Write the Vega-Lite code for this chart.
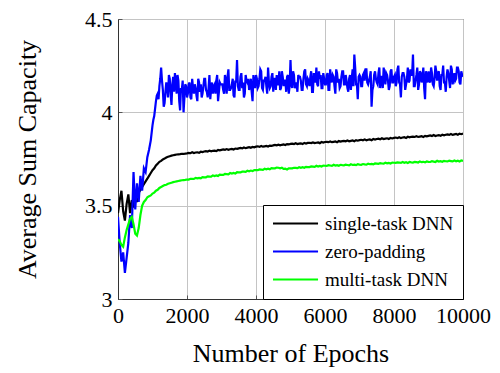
{
"$schema": "https://vega.github.io/schema/vega-lite/v6.json",
"width": 345, "height": 280,
"autosize": {"type": "none"},
"padding": {"left": 118, "top": 19, "right": 37, "bottom": 74},
"background": "white",
"config": {
  "font": "Liberation Serif",
  "view": {"stroke": "#333333", "strokeWidth": 1},
  "axis": {"labelFont": "Liberation Serif", "titleFont": "Liberation Serif", "labelFontSize": 22, "titleFontSize": 26, "labelColor": "#000", "titleColor": "#000", "titleFontWeight": "normal", "gridColor": "#c4c4c4", "gridWidth": 1, "domainColor": "#333333", "tickColor": "#555555", "tickSize": -4, "labelOverlap": false, "labelBound": false, "labelFlush": false},
  "legend": {"labelFont": "Liberation Serif"}
},
"data": {"values": [
{"e":0,"a":3.46,"b":3.44,"c":3.32},{"e":50,"a":3.53,"b":3.30,"c":3.31},{"e":100,"a":3.58,"b":3.20,"c":3.29},{"e":150,"a":3.47,"b":3.25,"c":3.28},{"e":200,"a":3.42,"b":3.14,"c":3.33},
{"e":250,"a":3.51,"b":3.22,"c":3.37},{"e":300,"a":3.56,"b":3.30,"c":3.40},{"e":350,"a":3.46,"b":3.45,"c":3.43},{"e":400,"a":3.53,"b":3.38,"c":3.44},{"e":450,"a":3.49,"b":3.68,"c":3.40},
{"e":500,"a":3.56,"b":3.48,"c":3.35},{"e":550,"a":3.52,"b":3.62,"c":3.34},{"e":600,"a":3.57,"b":3.52,"c":3.38},{"e":650,"a":3.585,"b":3.66,"c":3.45},{"e":700,"a":3.60,"b":3.58,"c":3.50},
{"e":750,"a":3.615,"b":3.70,"c":3.52},{"e":800,"a":3.63,"b":3.68,"c":3.53},{"e":850,"a":3.645,"b":3.76,"c":3.545},{"e":900,"a":3.66,"b":3.80,"c":3.55},{"e":950,"a":3.675,"b":3.85,"c":3.555},
{"e":1000,"a":3.69,"b":3.93,"c":3.565},{"e":1050,"a":3.70,"b":3.98,"c":3.57},{"e":1100,"a":3.715,"b":4.06,"c":3.58},{"e":1150,"a":3.725,"b":4.10,"c":3.585},{"e":1200,"a":3.735,"b":4.14,"c":3.595},
{"e":1250,"a":3.74,"b":4.24,"c":3.60},{"e":1300,"a":3.748,"b":4.12,"c":3.605},{"e":1350,"a":3.752,"b":4.05,"c":3.61},{"e":1400,"a":3.758,"b":4.16,"c":3.612},{"e":1450,"a":3.762,"b":4.08,"c":3.617},
{"e":1500,"a":3.765,"b":4.18,"c":3.62},{"e":1550,"a":3.768,"b":4.04,"c":3.623},{"e":1600,"a":3.77,"b":4.19,"c":3.626},{"e":1650,"a":3.772,"b":4.21,"c":3.628},{"e":1700,"a":3.774,"b":4.10,"c":3.63},
{"e":1750,"a":3.775,"b":4.17,"c":3.632},{"e":1800,"a":3.776,"b":4.01,"c":3.634},{"e":1850,"a":3.778,"b":4.12,"c":3.636},{"e":1900,"a":3.777,"b":4.00,"c":3.637},{"e":1950,"a":3.779,"b":4.15,"c":3.638},
{"e":2000,"a":3.78,"b":4.08,"c":3.64},
{"e":2050,"a":3.783,"b":4.15,"c":3.640},{"e":2100,"a":3.781,"b":4.08,"c":3.644},{"e":2150,"a":3.786,"b":4.18,"c":3.644},{"e":2200,"a":3.782,"b":4.10,"c":3.643},{"e":2250,"a":3.785,"b":4.13,"c":3.649},
{"e":2300,"a":3.786,"b":4.06,"c":3.646},{"e":2350,"a":3.783,"b":4.16,"c":3.649},{"e":2400,"a":3.789,"b":4.15,"c":3.647},{"e":2450,"a":3.787,"b":4.10,"c":3.653},{"e":2500,"a":3.790,"b":4.18,"c":3.652},
{"e":2550,"a":3.792,"b":4.12,"c":3.652},{"e":2600,"a":3.790,"b":4.08,"c":3.657},{"e":2650,"a":3.795,"b":4.20,"c":3.656},{"e":2700,"a":3.791,"b":4.13,"c":3.655},{"e":2750,"a":3.794,"b":4.10,"c":3.662},
{"e":2800,"a":3.795,"b":4.15,"c":3.659},{"e":2850,"a":3.792,"b":4.17,"c":3.662},{"e":2900,"a":3.798,"b":4.06,"c":3.659},{"e":2950,"a":3.796,"b":4.16,"c":3.666},{"e":3000,"a":3.799,"b":4.15,"c":3.665},
{"e":3050,"a":3.801,"b":4.12,"c":3.665},{"e":3100,"a":3.799,"b":4.20,"c":3.670},{"e":3150,"a":3.803,"b":4.10,"c":3.669},{"e":3200,"a":3.799,"b":4.23,"c":3.668},{"e":3250,"a":3.802,"b":4.12,"c":3.675},
{"e":3300,"a":3.804,"b":4.15,"c":3.672},{"e":3350,"a":3.801,"b":4.09,"c":3.675},{"e":3400,"a":3.806,"b":4.17,"c":3.672},{"e":3450,"a":3.804,"b":4.28,"c":3.679},{"e":3500,"a":3.807,"b":4.12,"c":3.678},
{"e":3550,"a":3.809,"b":4.19,"c":3.678},{"e":3600,"a":3.807,"b":4.13,"c":3.682},{"e":3650,"a":3.812,"b":4.08,"c":3.682},{"e":3700,"a":3.808,"b":4.20,"c":3.681},{"e":3750,"a":3.811,"b":4.16,"c":3.687},
{"e":3800,"a":3.813,"b":4.12,"c":3.684},{"e":3850,"a":3.810,"b":4.18,"c":3.688},{"e":3900,"a":3.815,"b":4.06,"c":3.685},{"e":3950,"a":3.813,"b":4.15,"c":3.691},{"e":4000,"a":3.816,"b":4.20,"c":3.690},
{"e":4050,"a":3.818,"b":4.13,"c":3.690},{"e":4100,"a":3.815,"b":4.18,"c":3.694},{"e":4150,"a":3.820,"b":4.22,"c":3.693},{"e":4200,"a":3.816,"b":4.12,"c":3.692},{"e":4250,"a":3.818,"b":4.17,"c":3.698},
{"e":4300,"a":3.820,"b":4.14,"c":3.695},{"e":4350,"a":3.817,"b":4.24,"c":3.698},{"e":4400,"a":3.822,"b":4.13,"c":3.695},{"e":4450,"a":3.820,"b":4.19,"c":3.701},{"e":4500,"a":3.823,"b":4.11,"c":3.700},
{"e":4550,"a":3.825,"b":4.18,"c":3.700},{"e":4600,"a":3.823,"b":4.20,"c":3.704},{"e":4650,"a":3.827,"b":4.15,"c":3.703},{"e":4700,"a":3.823,"b":4.12,"c":3.700},{"e":4750,"a":3.826,"b":4.22,"c":3.703},
{"e":4800,"a":3.828,"b":4.14,"c":3.697},{"e":4850,"a":3.825,"b":4.17,"c":3.698},{"e":4900,"a":3.830,"b":4.19,"c":3.694},{"e":4950,"a":3.828,"b":4.10,"c":3.700},{"e":5000,"a":3.831,"b":4.28,"c":3.700},
{"e":5050,"a":3.832,"b":4.13,"c":3.700},{"e":5100,"a":3.830,"b":4.20,"c":3.703},{"e":5150,"a":3.834,"b":4.14,"c":3.702},{"e":5200,"a":3.830,"b":4.11,"c":3.701},{"e":5250,"a":3.832,"b":4.19,"c":3.706},
{"e":5300,"a":3.834,"b":4.17,"c":3.703},{"e":5350,"a":3.830,"b":4.12,"c":3.706},{"e":5400,"a":3.836,"b":4.22,"c":3.703},{"e":5450,"a":3.833,"b":4.15,"c":3.708},{"e":5500,"a":3.836,"b":4.18,"c":3.707},
{"e":5550,"a":3.837,"b":4.14,"c":3.707},{"e":5600,"a":3.835,"b":4.22,"c":3.710},{"e":5650,"a":3.839,"b":4.11,"c":3.709},{"e":5700,"a":3.835,"b":4.19,"c":3.708},{"e":5750,"a":3.837,"b":4.24,"c":3.714},
{"e":5800,"a":3.839,"b":4.14,"c":3.710},{"e":5850,"a":3.835,"b":4.18,"c":3.713},{"e":5900,"a":3.841,"b":4.13,"c":3.710},{"e":5950,"a":3.838,"b":4.21,"c":3.715},{"e":6000,"a":3.841,"b":4.15,"c":3.714},
{"e":6050,"a":3.842,"b":4.20,"c":3.713},{"e":6100,"a":3.840,"b":4.12,"c":3.717},{"e":6150,"a":3.844,"b":4.23,"c":3.715},{"e":6200,"a":3.840,"b":4.16,"c":3.713},{"e":6250,"a":3.842,"b":4.19,"c":3.719},
{"e":6300,"a":3.844,"b":4.10,"c":3.715},{"e":6350,"a":3.840,"b":4.21,"c":3.717},{"e":6400,"a":3.846,"b":4.18,"c":3.714},{"e":6450,"a":3.843,"b":4.14,"c":3.719},{"e":6500,"a":3.846,"b":4.22,"c":3.717},
{"e":6550,"a":3.847,"b":4.15,"c":3.716},{"e":6600,"a":3.845,"b":4.20,"c":3.720},{"e":6650,"a":3.849,"b":4.13,"c":3.718},{"e":6700,"a":3.845,"b":4.18,"c":3.716},{"e":6750,"a":3.847,"b":4.12,"c":3.722},
{"e":6800,"a":3.849,"b":4.23,"c":3.718},{"e":6850,"a":3.845,"b":4.31,"c":3.720},{"e":6900,"a":3.851,"b":4.15,"c":3.717},{"e":6950,"a":3.848,"b":4.07,"c":3.722},{"e":7000,"a":3.851,"b":4.20,"c":3.720},
{"e":7050,"a":3.853,"b":4.14,"c":3.719},{"e":7100,"a":3.850,"b":4.20,"c":3.723},{"e":7150,"a":3.855,"b":4.17,"c":3.721},{"e":7200,"a":3.850,"b":4.23,"c":3.720},{"e":7250,"a":3.853,"b":4.15,"c":3.725},
{"e":7300,"a":3.855,"b":4.19,"c":3.722},{"e":7350,"a":3.851,"b":4.03,"c":3.724},{"e":7400,"a":3.857,"b":4.14,"c":3.721},{"e":7450,"a":3.854,"b":4.22,"c":3.726},{"e":7500,"a":3.857,"b":4.16,"c":3.725},
{"e":7550,"a":3.859,"b":4.21,"c":3.724},{"e":7600,"a":3.856,"b":4.13,"c":3.728},{"e":7650,"a":3.861,"b":4.19,"c":3.726},{"e":7700,"a":3.857,"b":4.24,"c":3.725},{"e":7750,"a":3.859,"b":4.15,"c":3.730},
{"e":7800,"a":3.861,"b":4.20,"c":3.727},{"e":7850,"a":3.857,"b":4.12,"c":3.729},{"e":7900,"a":3.863,"b":4.22,"c":3.726},{"e":7950,"a":3.860,"b":4.16,"c":3.731},{"e":8000,"a":3.863,"b":4.19,"c":3.730},
{"e":8050,"a":3.865,"b":4.14,"c":3.729},{"e":8100,"a":3.862,"b":4.23,"c":3.732},{"e":8150,"a":3.867,"b":4.16,"c":3.731},{"e":8200,"a":3.862,"b":4.08,"c":3.729},{"e":8250,"a":3.865,"b":4.21,"c":3.734},
{"e":8300,"a":3.867,"b":4.19,"c":3.730},{"e":8350,"a":3.863,"b":4.15,"c":3.733},{"e":8400,"a":3.869,"b":4.24,"c":3.729},{"e":8450,"a":3.866,"b":4.17,"c":3.734},{"e":8500,"a":3.869,"b":4.20,"c":3.732},
{"e":8550,"a":3.870,"b":4.31,"c":3.731},{"e":8600,"a":3.868,"b":4.14,"c":3.735},{"e":8650,"a":3.872,"b":4.20,"c":3.733},{"e":8700,"a":3.868,"b":4.12,"c":3.731},{"e":8750,"a":3.870,"b":4.22,"c":3.737},
{"e":8800,"a":3.872,"b":4.16,"c":3.733},{"e":8850,"a":3.868,"b":4.24,"c":3.735},{"e":8900,"a":3.874,"b":4.07,"c":3.732},{"e":8950,"a":3.871,"b":4.19,"c":3.737},{"e":9000,"a":3.874,"b":4.22,"c":3.735},
{"e":9050,"a":3.876,"b":4.16,"c":3.734},{"e":9100,"a":3.873,"b":4.21,"c":3.738},{"e":9150,"a":3.878,"b":4.14,"c":3.736},{"e":9200,"a":3.873,"b":4.25,"c":3.734},{"e":9250,"a":3.876,"b":4.17,"c":3.740},
{"e":9300,"a":3.878,"b":4.22,"c":3.736},{"e":9350,"a":3.874,"b":4.12,"c":3.738},{"e":9400,"a":3.880,"b":4.20,"c":3.735},{"e":9450,"a":3.877,"b":4.16,"c":3.740},{"e":9500,"a":3.880,"b":4.11,"c":3.738},
{"e":9550,"a":3.882,"b":4.23,"c":3.737},{"e":9600,"a":3.879,"b":4.17,"c":3.741},{"e":9650,"a":3.884,"b":4.25,"c":3.739},{"e":9700,"a":3.879,"b":4.15,"c":3.737},{"e":9750,"a":3.882,"b":4.21,"c":3.742},
{"e":9800,"a":3.884,"b":4.18,"c":3.738},{"e":9850,"a":3.880,"b":4.24,"c":3.741},{"e":9900,"a":3.886,"b":4.16,"c":3.737},{"e":9950,"a":3.883,"b":4.22,"c":3.742},{"e":10000,"a":3.886,"b":4.19,"c":3.740},
{"e":1025,"b":3.96},{"e":1075,"b":4.02},{"e":1125,"b":4.09},{"e":1175,"b":4.07},{"e":1225,"b":4.18},{"e":1275,"b":4.17},{"e":1325,"b":4.03},{"e":1375,"b":4.11},{"e":1425,"b":4.13},{"e":1475,"b":4.20},
{"e":1525,"b":4.10},{"e":1575,"b":4.15},{"e":1625,"b":4.11},{"e":1675,"b":4.16},{"e":1725,"b":4.20},{"e":1775,"b":4.06},{"e":1825,"b":4.13},{"e":1875,"b":4.17},{"e":1925,"b":4.08},{"e":1975,"b":4.14},
{"e":2025,"b":4.10},{"e":2075,"b":4.16},{"e":2125,"b":4.07},{"e":2175,"b":4.13},{"e":2225,"b":4.15},{"e":2275,"b":4.09},{"e":2325,"b":4.18},{"e":2375,"b":4.11},{"e":2425,"b":4.08},{"e":2475,"b":4.14},
{"e":2525,"b":4.18},{"e":2575,"b":4.11},{"e":2625,"b":4.13},{"e":2675,"b":4.07},{"e":2725,"b":4.16},{"e":2775,"b":4.14},{"e":2825,"b":4.10},{"e":2875,"b":4.20},{"e":2925,"b":4.11},{"e":2975,"b":4.15},
{"e":3025,"b":4.15},{"e":3075,"b":4.10},{"e":3125,"b":4.17},{"e":3175,"b":4.19},{"e":3225,"b":4.12},{"e":3275,"b":4.13},{"e":3325,"b":4.18},{"e":3375,"b":4.08},{"e":3425,"b":4.16},{"e":3475,"b":4.14},
{"e":3525,"b":4.12},{"e":3575,"b":4.21},{"e":3625,"b":4.16},{"e":3675,"b":4.10},{"e":3725,"b":4.17},{"e":3775,"b":4.18},{"e":3825,"b":4.14},{"e":3875,"b":4.11},{"e":3925,"b":4.20},{"e":3975,"b":4.13},
{"e":4025,"b":4.18},{"e":4075,"b":4.14},{"e":4125,"b":4.23},{"e":4175,"b":4.13},{"e":4225,"b":4.17},{"e":4275,"b":4.19},{"e":4325,"b":4.10},{"e":4375,"b":4.16},{"e":4425,"b":4.14},{"e":4475,"b":4.21},
{"e":4525,"b":4.18},{"e":4575,"b":4.12},{"e":4625,"b":4.15},{"e":4675,"b":4.22},{"e":4725,"b":4.13},{"e":4775,"b":4.19},{"e":4825,"b":4.17},{"e":4875,"b":4.11},{"e":4925,"b":4.20},{"e":4975,"b":4.14},
{"e":5025,"b":4.15},{"e":5075,"b":4.22},{"e":5125,"b":4.13},{"e":5175,"b":4.16},{"e":5225,"b":4.20},{"e":5275,"b":4.19},{"e":5325,"b":4.12},{"e":5375,"b":4.18},{"e":5425,"b":4.23},{"e":5475,"b":4.14},
{"e":5525,"b":4.17},{"e":5575,"b":4.19},{"e":5625,"b":4.11},{"e":5675,"b":4.21},{"e":5725,"b":4.16},{"e":5775,"b":4.15},{"e":5825,"b":4.22},{"e":5875,"b":4.20},{"e":5925,"b":4.13},{"e":5975,"b":4.18},
{"e":6025,"b":4.15},{"e":6075,"b":4.21},{"e":6125,"b":4.12},{"e":6175,"b":4.18},{"e":6225,"b":4.20},{"e":6275,"b":4.14},{"e":6325,"b":4.23},{"e":6375,"b":4.16},{"e":6425,"b":4.13},{"e":6475,"b":4.19},
{"e":6525,"b":4.22},{"e":6575,"b":4.15},{"e":6625,"b":4.17},{"e":6675,"b":4.11},{"e":6725,"b":4.20},{"e":6775,"b":4.18},{"e":6825,"b":4.14},{"e":6875,"b":4.24},{"e":6925,"b":4.15},{"e":6975,"b":4.19},
{"e":7025,"b":4.19},{"e":7075,"b":4.14},{"e":7125,"b":4.21},{"e":7175,"b":4.23},{"e":7225,"b":4.16},{"e":7275,"b":4.17},{"e":7325,"b":4.22},{"e":7375,"b":4.12},{"e":7425,"b":4.20},{"e":7475,"b":4.18},
{"e":7525,"b":4.15},{"e":7575,"b":4.24},{"e":7625,"b":4.19},{"e":7675,"b":4.13},{"e":7725,"b":4.20},{"e":7775,"b":4.21},{"e":7825,"b":4.17},{"e":7875,"b":4.14},{"e":7925,"b":4.23},{"e":7975,"b":4.16},
{"e":8025,"b":4.20},{"e":8075,"b":4.16},{"e":8125,"b":4.25},{"e":8175,"b":4.15},{"e":8225,"b":4.19},{"e":8275,"b":4.21},{"e":8325,"b":4.12},{"e":8375,"b":4.18},{"e":8425,"b":4.16},{"e":8475,"b":4.23},
{"e":8525,"b":4.20},{"e":8575,"b":4.14},{"e":8625,"b":4.17},{"e":8675,"b":4.24},{"e":8725,"b":4.15},{"e":8775,"b":4.21},{"e":8825,"b":4.19},{"e":8875,"b":4.13},{"e":8925,"b":4.22},{"e":8975,"b":4.16},
{"e":9025,"b":4.17},{"e":9075,"b":4.24},{"e":9125,"b":4.15},{"e":9175,"b":4.18},{"e":9225,"b":4.22},{"e":9275,"b":4.21},{"e":9325,"b":4.14},{"e":9375,"b":4.20},{"e":9425,"b":4.25},{"e":9475,"b":4.16},
{"e":9525,"b":4.19},{"e":9575,"b":4.21},{"e":9625,"b":4.13},{"e":9675,"b":4.23},{"e":9725,"b":4.18},{"e":9775,"b":4.17},{"e":9825,"b":4.24},{"e":9875,"b":4.22},{"e":9925,"b":4.15},{"e":9975,"b":4.20}
]},
"transform": [{"fold": ["a", "b", "c"], "as": ["s", "v"]}, {"filter": "isValid(datum.v)"}],
"mark": {"type": "line", "strokeWidth": 2.2, "clip": true},
"encoding": {
  "x": {"field": "e", "type": "quantitative", "scale": {"domain": [0, 10000], "nice": false},
        "axis": {"title": "Number of Epochs", "titleFont": "Liberation Serif", "labelFont": "Liberation Serif", "values": [0, 2000, 4000, 6000, 8000, 10000], "format": "d", "labelPadding": 10, "titlePadding": 14}},
  "y": {"field": "v", "type": "quantitative", "scale": {"domain": [3, 4.5], "nice": false, "zero": false},
        "axis": {"title": "Average Sum Capacity", "titleFont": "Liberation Serif", "labelFont": "Liberation Serif", "values": [3, 3.5, 4, 4.5], "format": "~g", "labelPadding": 10, "titlePadding": 44}},
  "color": {"field": "s", "type": "nominal", "scale": {"domain": ["a", "b", "c"], "range": ["#000000", "#0000ff", "#00ff00"]},
        "legend": {"title": null, "orient": "bottom-right", "offset": 0, "strokeColor": "#000000", "fillColor": "#ffffff", "padding": 9, "labelFont": "Liberation Serif", "labelFontSize": 19, "labelColor": "#000", "symbolType": "M-1,0H4.3", "symbolSize": 289, "symbolStrokeWidth": 2, "labelOffset": 34, "rowPadding": 8,
          "labelExpr": "datum.label == 'a' ? 'single-task DNN' : datum.label == 'b' ? 'zero-padding' : 'multi-task DNN'"}},
  "order": {"field": "e", "type": "quantitative"}
}
}
